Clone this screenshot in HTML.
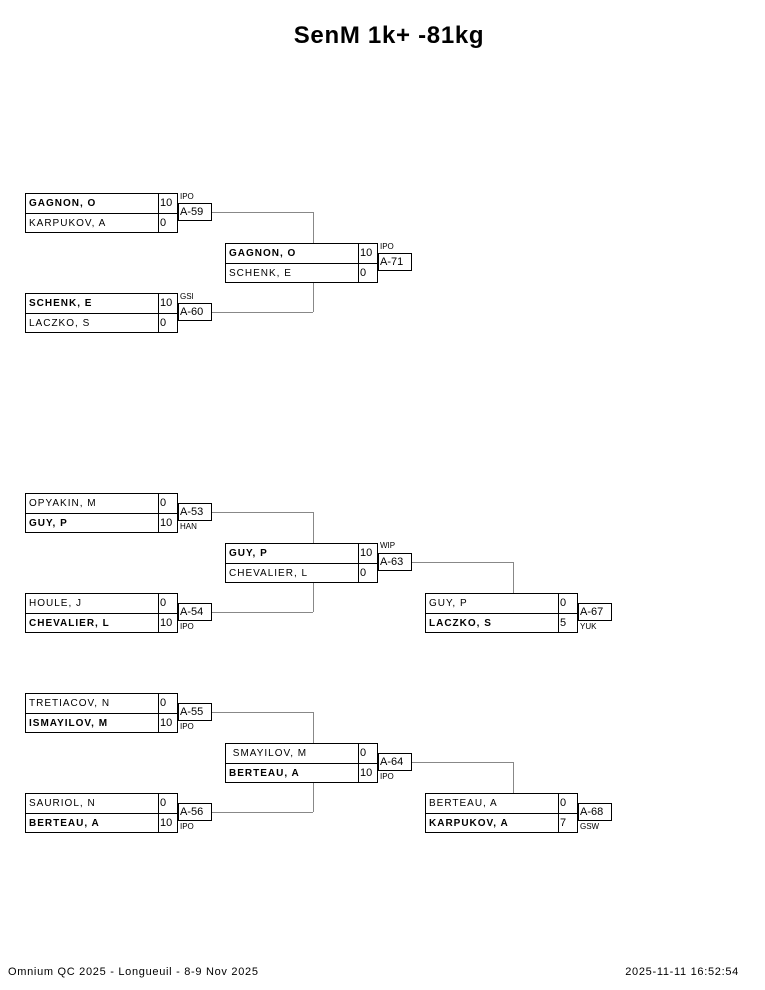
<!DOCTYPE html>
<html><head><meta charset="utf-8"><style>
body{margin:0;width:765px;height:990px;background:#fff;position:relative;font-family:"Liberation Sans",sans-serif;color:#000;overflow:hidden}
.a{position:absolute}
.box{position:absolute;width:153px;height:40px;border:1px solid #000;box-sizing:border-box}
.box .h{position:absolute;left:0;right:0;top:19px;border-top:1px solid #000}
.box .v{position:absolute;left:132px;top:0;bottom:0;border-left:1px solid #000}
.n{position:absolute;left:3px;font-size:10px;letter-spacing:1px;white-space:nowrap;line-height:19px}
.b{font-weight:bold}
.s{position:absolute;left:134px;font-size:11px;line-height:19px}
.lb{position:absolute;width:34px;height:18px;border:1px solid #000;box-sizing:border-box;font-size:11px;line-height:16px;padding-left:1px}
.c{position:absolute;font-size:8px;line-height:9px}
.hl{position:absolute;height:0;border-top:1px solid #888}
.vl{position:absolute;width:0;border-left:1px solid #888}
</style></head><body>
<div class="a" style="left:0;width:778px;top:22px;text-align:center;font-size:24px;letter-spacing:0.7px;font-weight:bold">SenM 1k+ -81kg</div>

<!-- A-59 -->
<div class="box" style="left:25px;top:193px"><div class="h"></div><div class="v"></div><div class="n b" style="top:0">GAGNON, O</div><div class="n" style="top:20px">KARPUKOV, A</div><div class="s" style="top:0">10</div><div class="s" style="top:20px">0</div></div>
<div class="lb" style="left:178px;top:203px">A-59</div><div class="c" style="left:180px;top:192px">IPO</div>
<!-- A-60 -->
<div class="box" style="left:25px;top:293px"><div class="h"></div><div class="v"></div><div class="n b" style="top:0">SCHENK, E</div><div class="n" style="top:20px">LACZKO, S</div><div class="s" style="top:0">10</div><div class="s" style="top:20px">0</div></div>
<div class="lb" style="left:178px;top:303px">A-60</div><div class="c" style="left:180px;top:292px">GSI</div>
<!-- A-71 -->
<div class="box" style="left:225px;top:243px"><div class="h"></div><div class="v"></div><div class="n b" style="top:0">GAGNON, O</div><div class="n" style="top:20px">SCHENK, E</div><div class="s" style="top:0">10</div><div class="s" style="top:20px">0</div></div>
<div class="lb" style="left:378px;top:253px">A-71</div><div class="c" style="left:380px;top:242px">IPO</div>
<div class="hl" style="left:212px;top:212px;width:101px"></div><div class="vl" style="left:313px;top:212px;height:31px"></div>
<div class="hl" style="left:212px;top:312px;width:101px"></div><div class="vl" style="left:313px;top:283px;height:29px"></div>

<!-- A-53 -->
<div class="box" style="left:25px;top:493px"><div class="h"></div><div class="v"></div><div class="n" style="top:0">OPYAKIN, M</div><div class="n b" style="top:20px">GUY, P</div><div class="s" style="top:0">0</div><div class="s" style="top:20px">10</div></div>
<div class="lb" style="left:178px;top:503px">A-53</div><div class="c" style="left:180px;top:522px">HAN</div>
<!-- A-54 -->
<div class="box" style="left:25px;top:593px"><div class="h"></div><div class="v"></div><div class="n" style="top:0">HOULE, J</div><div class="n b" style="top:20px">CHEVALIER, L</div><div class="s" style="top:0">0</div><div class="s" style="top:20px">10</div></div>
<div class="lb" style="left:178px;top:603px">A-54</div><div class="c" style="left:180px;top:622px">IPO</div>
<!-- A-63 -->
<div class="box" style="left:225px;top:543px"><div class="h"></div><div class="v"></div><div class="n b" style="top:0">GUY, P</div><div class="n" style="top:20px">CHEVALIER, L</div><div class="s" style="top:0">10</div><div class="s" style="top:20px">0</div></div>
<div class="lb" style="left:378px;top:553px">A-63</div><div class="c" style="left:380px;top:541px">WIP</div>
<div class="hl" style="left:212px;top:512px;width:101px"></div><div class="vl" style="left:313px;top:512px;height:31px"></div>
<div class="hl" style="left:212px;top:612px;width:101px"></div><div class="vl" style="left:313px;top:583px;height:29px"></div>
<!-- A-67 -->
<div class="box" style="left:425px;top:593px"><div class="h"></div><div class="v"></div><div class="n" style="top:0">GUY, P</div><div class="n b" style="top:20px">LACZKO, S</div><div class="s" style="top:0">0</div><div class="s" style="top:20px">5</div></div>
<div class="lb" style="left:578px;top:603px">A-67</div><div class="c" style="left:580px;top:622px">YUK</div>
<div class="hl" style="left:412px;top:562px;width:101px"></div><div class="vl" style="left:513px;top:562px;height:31px"></div>

<!-- A-55 -->
<div class="box" style="left:25px;top:693px"><div class="h"></div><div class="v"></div><div class="n" style="top:0">TRETIACOV, N</div><div class="n b" style="top:20px">ISMAYILOV, M</div><div class="s" style="top:0">0</div><div class="s" style="top:20px">10</div></div>
<div class="lb" style="left:178px;top:703px">A-55</div><div class="c" style="left:180px;top:722px">IPO</div>
<!-- A-56 -->
<div class="box" style="left:25px;top:793px"><div class="h"></div><div class="v"></div><div class="n" style="top:0">SAURIOL, N</div><div class="n b" style="top:20px">BERTEAU, A</div><div class="s" style="top:0">0</div><div class="s" style="top:20px">10</div></div>
<div class="lb" style="left:178px;top:803px">A-56</div><div class="c" style="left:180px;top:822px">IPO</div>
<!-- A-64 -->
<div class="box" style="left:225px;top:743px"><div class="h"></div><div class="v"></div><div class="n" style="top:0">&nbsp;SMAYILOV, M</div><div class="n b" style="top:20px">BERTEAU, A</div><div class="s" style="top:0">0</div><div class="s" style="top:20px">10</div></div>
<div class="lb" style="left:378px;top:753px">A-64</div><div class="c" style="left:380px;top:772px">IPO</div>
<div class="hl" style="left:212px;top:712px;width:101px"></div><div class="vl" style="left:313px;top:712px;height:31px"></div>
<div class="hl" style="left:212px;top:812px;width:101px"></div><div class="vl" style="left:313px;top:783px;height:29px"></div>
<!-- A-68 -->
<div class="box" style="left:425px;top:793px"><div class="h"></div><div class="v"></div><div class="n" style="top:0">BERTEAU, A</div><div class="n b" style="top:20px">KARPUKOV, A</div><div class="s" style="top:0">0</div><div class="s" style="top:20px">7</div></div>
<div class="lb" style="left:578px;top:803px">A-68</div><div class="c" style="left:580px;top:822px">GSW</div>
<div class="hl" style="left:412px;top:762px;width:101px"></div><div class="vl" style="left:513px;top:762px;height:31px"></div>

<div class="a" style="left:8px;top:966px;font-size:11px;letter-spacing:0.7px">Omnium QC 2025 - Longueuil - 8-9 Nov 2025</div>
<div class="a" style="right:26px;top:966px;font-size:11px;letter-spacing:0.7px">2025-11-11 16:52:54</div>
</body></html>
